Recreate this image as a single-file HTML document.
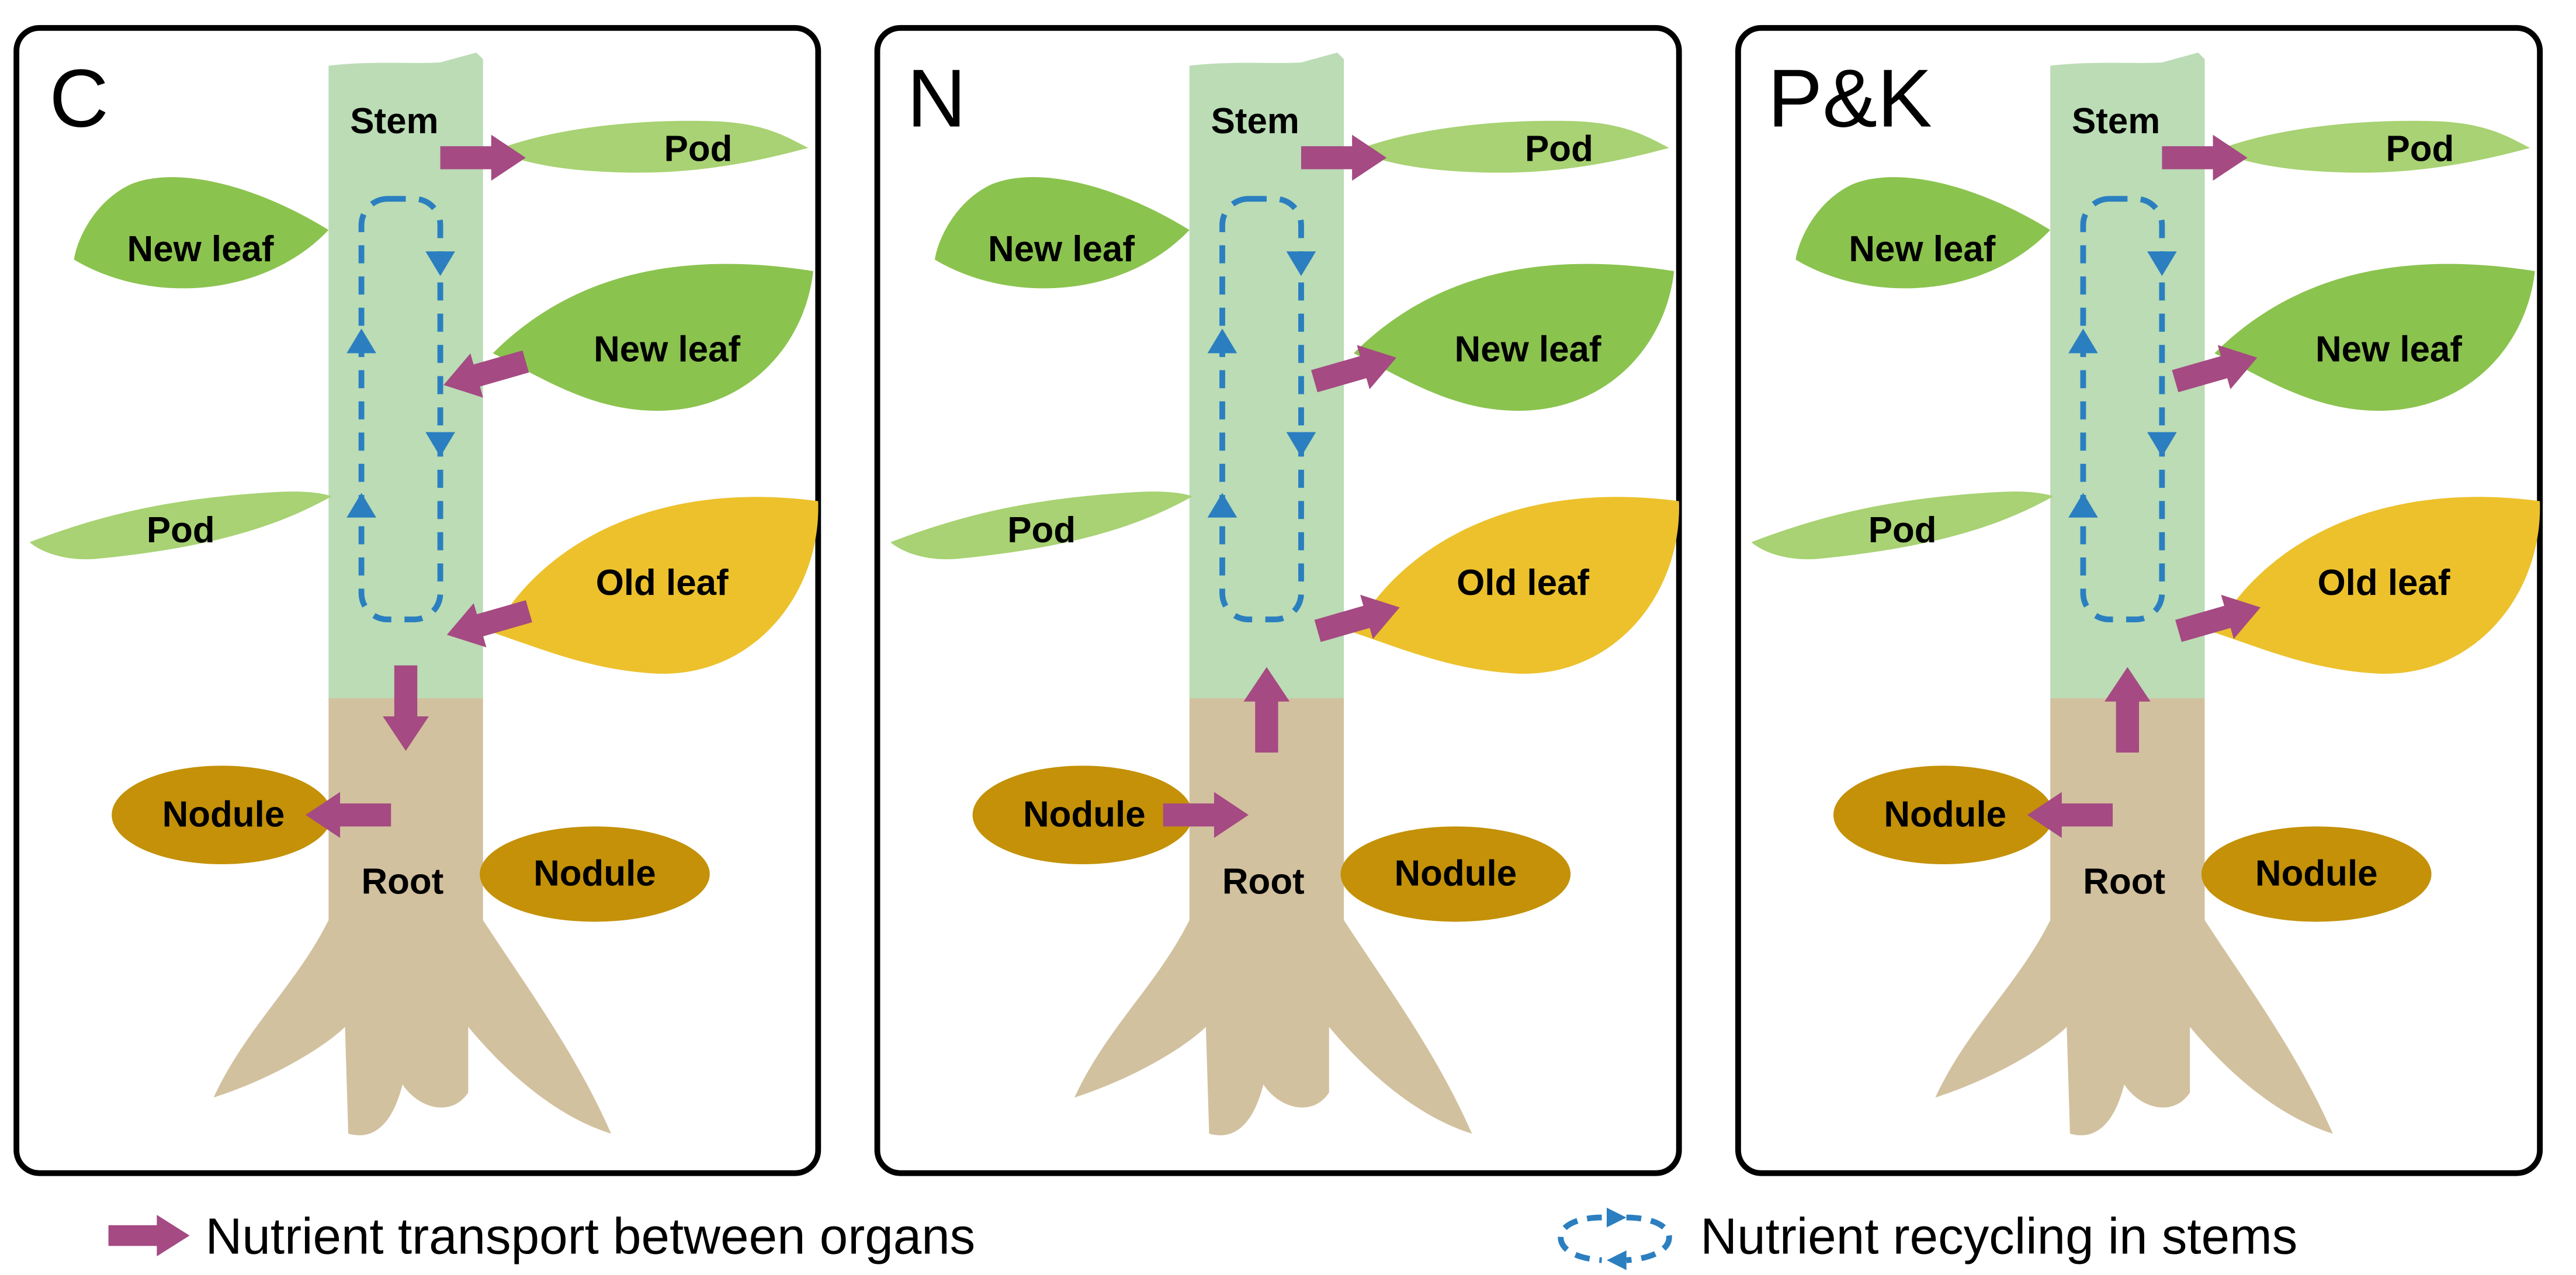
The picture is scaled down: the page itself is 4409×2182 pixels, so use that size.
<!DOCTYPE html>
<html><head><meta charset="utf-8"><style>html,body{margin:0;padding:0;background:#fff}svg{display:block}</style></head>
<body>
<svg width="4409" height="2182" viewBox="0 0 1568 776" xmlns="http://www.w3.org/2000/svg" font-family="Liberation Sans, Arial, sans-serif">
<defs>
<polygon id="arr" points="0,-7 31,-7 31,-14 52,0 31,14 31,7 0,7" fill="#a54a82"/>
<polygon id="tri" points="-9,-10 9,-10 0,5" fill="#2b7fc0"/>
<g id="base">
  <rect x="10" y="17" width="488" height="697" rx="14" fill="#fff" stroke="#000" stroke-width="3.5"/>
  <path d="M200,40 C225,37 250,39 268,38 L290,32 L294,36 L294,426 L200,426 Z" fill="#bbdcb5"/>
  <path d="M200,425 L294,425 L294,560 C320,600 350,640 372,690 C340,680 310,655 285,625 L285,665 C275,680 255,675 245,660 C240,680 230,695 212,690 L210,625 C200,635 170,655 130,668 C150,625 180,600 200,560 Z" fill="#d2c19f"/>
  <path d="M200,140 C160,115 110,100 80,112 C58,122 47,145 45,158 C90,185 160,182 200,140 Z" fill="#8bc34f"/>
  <path d="M300,215 C340,175 400,150 495,165 C490,210 455,250 400,250 C360,250 330,230 300,215 Z" fill="#8bc34f"/>
  <path d="M300,385 C330,330 400,292 498,305 C500,360 460,412 400,410 C360,408 330,395 300,385 Z" fill="#ecc12c"/>
  <path d="M300,92 C340,76 400,72 440,74 C468,76 480,84 492,90 C455,100 420,106 380,105 C340,104 320,99 300,92 Z" fill="#a8d273"/>
  <path d="M18,330 C60,314 100,304 160,300 C185,298 195,300 202,302 C170,320 130,333 60,340 C40,342 25,336 18,330 Z" fill="#a8d273"/>
  <ellipse cx="135" cy="496" rx="67" ry="30" fill="#c49108"/>
  <ellipse cx="362" cy="532" rx="70" ry="29" fill="#c49108"/>
  <rect x="220" y="121" width="48" height="256" rx="16" fill="none" stroke="#2b7fc0" stroke-width="3.5" stroke-dasharray="11 8"/>
  <use href="#tri" transform="translate(220,205) rotate(180)"/>
  <use href="#tri" transform="translate(220,305) rotate(180)"/>
  <use href="#tri" transform="translate(268,163)"/>
  <use href="#tri" transform="translate(268,273)"/>
  <g font-weight="bold" font-size="22" text-anchor="middle" fill="#000">
    <text x="240" y="81">Stem</text>
    <text x="425" y="98">Pod</text>
    <text x="122" y="159">New leaf</text>
    <text x="406" y="220">New leaf</text>
    <text x="110" y="330">Pod</text>
    <text x="403" y="362">Old leaf</text>
    <text x="136" y="503">Nodule</text>
    <text x="362" y="539">Nodule</text>
    <text x="245" y="544">Root</text>
  </g>
  <use href="#arr" transform="translate(268,96)"/>
</g>
</defs>

<use href="#base"/>
<text x="30" y="77" font-size="50">C</text>
<use href="#arr" transform="translate(320,220) rotate(164)"/>
<use href="#arr" transform="translate(322,372) rotate(164)"/>
<use href="#arr" transform="translate(247,405) rotate(90)"/>
<use href="#arr" transform="translate(238,496) rotate(180)"/>

<g transform="translate(524,0)">
<use href="#base"/>
<text x="28" y="77" font-size="50">N</text>
<use href="#arr" transform="translate(276,232) rotate(-16)"/>
<use href="#arr" transform="translate(278,384) rotate(-16)"/>
<use href="#arr" transform="translate(247,458) rotate(-90)"/>
<use href="#arr" transform="translate(184,496)"/>
</g>

<g transform="translate(1048,0)">
<use href="#base"/>
<text x="28" y="77" font-size="50">P&amp;K</text>
<use href="#arr" transform="translate(276,232) rotate(-16)"/>
<use href="#arr" transform="translate(278,384) rotate(-16)"/>
<use href="#arr" transform="translate(247,458) rotate(-90)"/>
<use href="#arr" transform="translate(238,496) rotate(180)"/>
</g>

<use href="#arr" transform="translate(66,752) scale(0.95,0.9)"/>
<text x="125" y="763" font-size="31">Nutrient transport between organs</text>
<path d="M975,741 C960,741 950,746 950,753 C950,761 960,766 975,767 M990,741 C1005,741 1016,746 1016,753 C1016,761 1005,766 990,767" fill="none" stroke="#2b7fc0" stroke-width="3.5" stroke-dasharray="9 6"/>
<polygon points="978,735 990,741 978,747" fill="#2b7fc0"/>
<polygon points="990,761 978,767 990,773" fill="#2b7fc0"/>
<text x="1035" y="763" font-size="31">Nutrient recycling in stems</text>
</svg>
</body></html>
